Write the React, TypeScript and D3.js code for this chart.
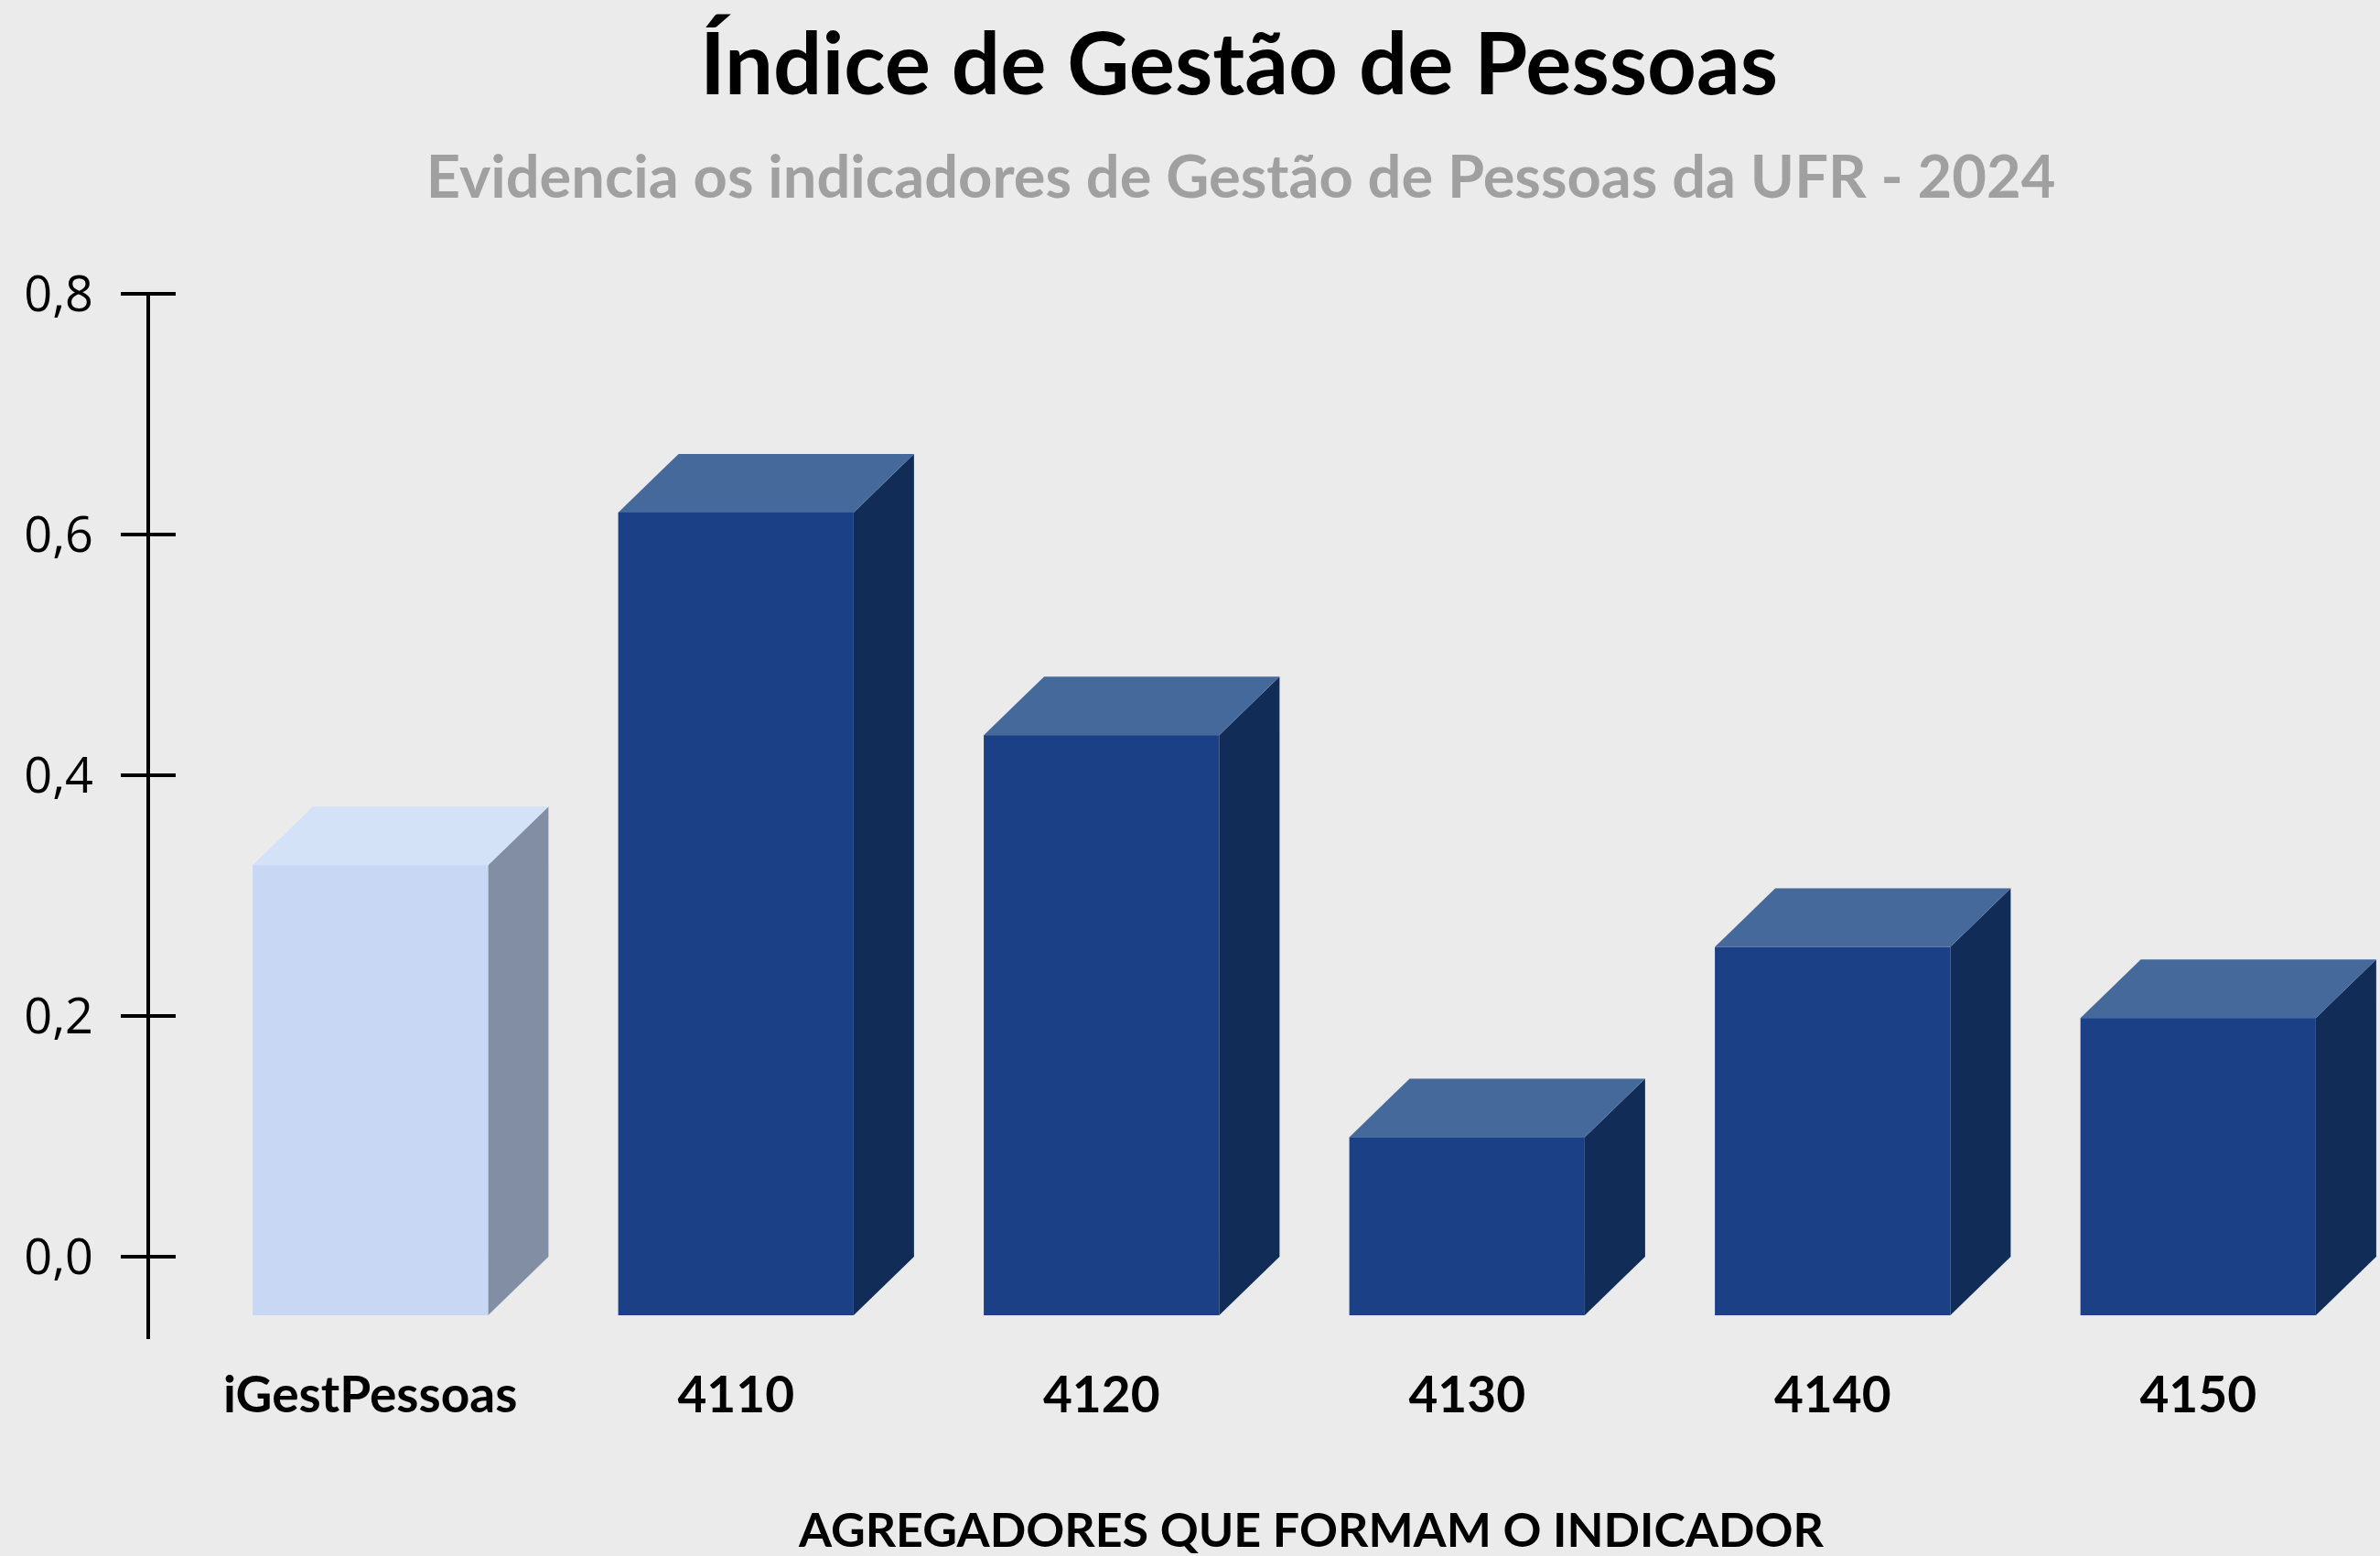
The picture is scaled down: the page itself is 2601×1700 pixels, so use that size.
import * as d3 from 'd3';
import React from 'react';

// dados
const categories = ['iGestPessoas', '4110', '4120', '4130', '4140', '4150'];
const values = [0.374, 0.667, 0.482, 0.148, 0.306, 0.247];
const yTicks = [0, 0.2, 0.4, 0.6, 0.8];
const title = 'Índice de Gestão de Pessoas';
const subtitle = 'Evidencia os indicadores de Gestão de Pessoas da UFR - 2024';
const xTitle = 'AGREGADORES QUE FORMAM O INDICADOR';

const W = 2601;
const H = 1700;
const depthX = 66;
const depthY = 64;
const font = 'Lato, "Noto Sans", sans-serif';

const ptBR = d3.formatLocale({ decimal: ',', thousands: '.', grouping: [3], currency: ['R$', ''] });
const fmt = ptBR.format('.1f');

const lightColors = { front: '#c8d7f4', top: '#d3e2f7', side: '#828ea3' };
const darkColors = { front: '#1b4086', top: '#46699b', side: '#112d57' };

export default function App() {
  const x = d3.scaleBand()
    .domain(categories)
    .range([205, 2602])
    .paddingInner(0.356)
    .paddingOuter(0.178);
  const y = d3.scaleLinear().domain([0, 0.8]).range([1373, 321]);
  const axisX = 162;
  const w = x.bandwidth();
  const y0 = y(0);

  return (
    <svg width={W} height={H} style={{ position: 'absolute', left: 0, top: 0 }}>
      <rect width={W} height={H} fill="#ebebeb" />

      <text x={1354} y={103} textAnchor="middle" fontFamily={font} fontWeight="bold" fontSize={94} fill="#000">
        {title}
      </text>
      <text x={1356} y={216} textAnchor="middle" fontFamily={font} fontWeight="bold" fontSize={65} fill="#a0a0a0">
        {subtitle}
      </text>

      {/* eixo y */}
      <line x1={axisX} x2={axisX} y1={y(0.8)} y2={y0 + 90} stroke="#000" strokeWidth={4} />
      {yTicks.map((t) => (
        <g key={t}>
          <line x1={axisX - 30} x2={axisX + 30} y1={y(t)} y2={y(t)} stroke="#000" strokeWidth={4} />
          <text x={102} y={y(t)} dy="0.36em" textAnchor="end" fontFamily='"Open Sans", sans-serif' fontSize={54} fill="#000">
            {fmt(t)}
          </text>
        </g>
      ))}

      {/* barras 3D */}
      {categories.map((c, i) => {
        const x0 = x(c);
        const yt = y(values[i]);
        const col = i === 0 ? lightColors : darkColors;
        const top = [[x0, yt + depthY], [x0 + depthX, yt], [x0 + w + depthX, yt], [x0 + w, yt + depthY]];
        const side = [[x0 + w, yt + depthY], [x0 + w + depthX, yt], [x0 + w + depthX, y0], [x0 + w, y0 + depthY]];
        return (
          <g key={c}>
            <polygon points={side.join(' ')} fill={col.side} />
            <polygon points={top.join(' ')} fill={col.top} />
            <rect x={x0} y={yt + depthY} width={w} height={y0 - yt} fill={col.front} />
          </g>
        );
      })}

      {categories.map((c) => (
        <text key={c} x={x(c) + w / 2} y={1543} textAnchor="middle" fontFamily={font} fontWeight="bold" fontSize={55} fill="#000">
          {c}
        </text>
      ))}

      <text x={1433} y={1690} textAnchor="middle" fontFamily={font} fontWeight="bold" fontSize={52} fill="#000">
        {xTitle}
      </text>
    </svg>
  );
}
